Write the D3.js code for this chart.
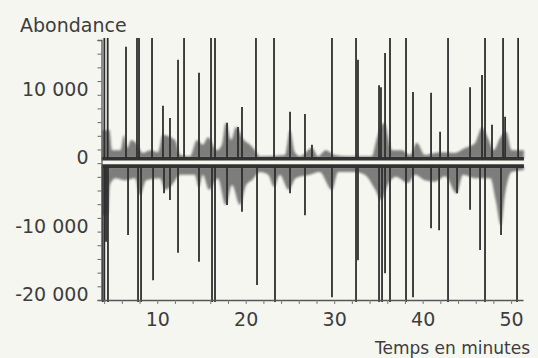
<!DOCTYPE html>
<html>
<head>
<meta charset="utf-8">
<script src="https://cdn.jsdelivr.net/npm/d3@7"></script>
<style>
  html, body { margin: 0; padding: 0; background: #f6f6f0; }
  svg { display: block; }
  text { font-family: "DejaVu Sans", sans-serif; fill: #3d3d3d; }
</style>
</head>
<body>
<div id="chart"></div>
<script>
// values (minutes, abundance)
const yTickLabels = [-20000, -10000, 0, 10000];
const xTickLabels = [10, 20, 30, 40, 50];
const CLIP_UP = 18300;     // peaks leaving the top of the frame
const CLIP_DOWN = -20300;  // peaks leaving the bottom of the frame

const posPeaks = [
  [4.02, CLIP_UP], [4.40, CLIP_UP], [6.47, 17000], [7.71, CLIP_UP], [7.94, CLIP_UP],
  [9.41, CLIP_UP], [10.65, 8400], [11.44, 6600], [12.35, 15100], [13.03, CLIP_UP],
  [14.72, 13200], [16.08, CLIP_UP], [16.53, CLIP_UP], [17.89, 5900], [19.13, 5300],
  [19.58, 8200], [21.16, CLIP_UP], [23.20, CLIP_UP], [25.01, 7500], [26.70, 7200],
  [27.49, 2700], [29.75, CLIP_UP], [32.47, CLIP_UP], [32.69, 15100], [35.07, 11400],
  [35.29, 11100], [35.75, 16100], [36.31, CLIP_UP], [38.12, CLIP_UP], [38.91, 10400],
  [40.95, 10300], [41.97, 4600], [42.87, CLIP_UP], [45.36, 11100], [46.71, 12900],
  [47.05, CLIP_UP], [47.84, 5600], [49.09, CLIP_UP], [49.32, 6800], [50.79, CLIP_UP]
];

const negPeaks = [
  [3.81, CLIP_DOWN], [4.02, CLIP_DOWN], [4.21, -11500], [4.43, CLIP_DOWN], [6.70, -10500],
  [7.83, CLIP_DOWN], [8.17, CLIP_DOWN], [9.53, -17100], [10.77, -4400], [11.44, -5400],
  [12.35, -13100], [14.72, -14400], [16.19, CLIP_DOWN], [16.53, CLIP_DOWN], [17.89, -6100],
  [19.58, -7100], [21.28, -17800], [23.31, CLIP_DOWN], [25.01, -4400], [26.70, -7600],
  [29.75, -19600], [32.47, CLIP_DOWN], [32.69, -14200], [35.07, CLIP_DOWN], [35.41, CLIP_DOWN],
  [35.75, -16100], [36.31, CLIP_DOWN], [38.12, CLIP_DOWN], [38.91, -19600], [40.95, -9500],
  [41.86, -9800], [42.87, CLIP_DOWN], [43.89, -4400], [45.36, -6800], [46.49, -12700],
  [47.05, CLIP_DOWN], [48.86, -10500], [50.67, CLIP_DOWN]
];

// upper envelope of the noisy baseline of the top trace
const posBand = [
  [3.7, 1000], [3.75, 4800], [4.6, 4800], [4.9, 1900], [5.85, 1900], [6.25, 4100], [6.6, 2200],
  [7.05, 3400], [7.5, 3100], [8.4, 1500], [9.2, 1900], [10.1, 1600], [10.6, 4100], [12.0, 3400],
  [12.6, 1200], [13.7, 1000], [14.5, 3400], [15.15, 2700], [15.75, 3800], [16.75, 1900],
  [17.3, 2700], [17.75, 5900], [18.35, 3400], [18.9, 5300], [19.8, 3400], [20.5, 2700],
  [21.05, 1900], [21.6, 1000], [24.45, 1200], [25.0, 4800], [25.55, 1600], [26.15, 1000],
  [27.5, 2200], [28.15, 1000], [29.05, 1900], [30.05, 1200], [31.75, 1000], [34.25, 1000],
  [34.85, 3800], [35.65, 5900], [36.55, 1900], [37.65, 1900], [38.55, 1200], [39.35, 3000],
  [40.25, 1200], [41.95, 1600], [43.65, 1500], [44.75, 2200], [45.95, 3000], [46.7, 5200],
  [47.35, 3800], [48.05, 1900], [48.75, 3700], [49.45, 4600], [50.05, 1900], [51.45, 1900]
];

// lower envelope of the noisy baseline of the mirrored trace
const negBand = [
  [3.7, -1000], [3.75, -7600], [4.4, -7600], [4.65, -3200], [5.25, -2200], [6.35, -2500],
  [7.5, -2200], [8.05, -4700], [8.75, -2500], [10.3, -2200], [10.9, -3900], [11.65, -3200],
  [12.6, -1700], [14.25, -1700], [14.7, -3500], [15.15, -1700], [15.85, -3900], [16.85, -2200],
  [17.75, -6100], [18.45, -3200], [19.35, -6100], [20.05, -3200], [20.7, -2500], [21.6, -1300],
  [22.55, -1700], [23.2, -3500], [23.85, -1700], [24.85, -3900], [25.65, -2200], [27.25, -1700],
  [28.35, -1300], [29.75, -3900], [30.45, -1300], [32.35, -1300], [33.45, -1700], [34.65, -3900],
  [35.3, -5400], [36.05, -3200], [36.95, -2000], [38.35, -2900], [39.15, -1700], [40.25, -2500],
  [41.35, -2700], [42.55, -1900], [43.85, -4400], [44.55, -1700], [45.95, -2200], [47.65, -2200],
  [48.25, -5400], [48.85, -9100], [49.3, -4700], [50.05, -1300], [51.45, -1000]
];

const POS_BASE = 700;
const NEG_BASE = -500;

const width = 538, height = 358;
const mLeft = 101.5, mRight = 523.5, mTop = 40, mBottom = 300;

const svg = d3.select('#chart').append('svg')
  .attr('width', width)
  .attr('height', height);

const defs = svg.append('defs');
defs.append('filter').attr('id', 'soft')
  .append('feGaussianBlur').attr('stdDeviation', 0.45);
defs.append('filter').attr('id', 'fuzz')
  .attr('x', '-5%').attr('y', '-50%').attr('width', '110%').attr('height', '200%')
  .append('feGaussianBlur').attr('stdDeviation', 1.3);
defs.append('clipPath').attr('id', 'frame')
  .append('rect').attr('x', mLeft).attr('y', mTop - 3)
  .attr('width', mRight - mLeft + 3).attr('height', mBottom - mTop + 6);

const x = d3.scaleLinear().domain([3.7, 51.4]).range([mLeft, mRight]);
const y = d3.scaleLinear().domain([-20000, 18000]).range([mBottom, mTop]);

const fmt = d3.formatLocale({ decimal: ',', thousands: ' ', grouping: [3], currency: ['', ''], minus: '-' }).format(',d');

const plot = svg.append('g').attr('clip-path', 'url(#frame)');

// noisy baseline humps
const bandG = plot.append('g').attr('filter', 'url(#fuzz)').attr('opacity', 0.8);
bandG.append('path')
  .datum(posBand)
  .attr('fill', '#5e5e5e')
  .attr('d', d3.area().curve(d3.curveMonotoneX)
    .x(d => x(d[0])).y0(y(POS_BASE)).y1(d => y(d[1])));
bandG.append('path')
  .datum(negBand)
  .attr('fill', '#5e5e5e')
  .attr('d', d3.area().curve(d3.curveMonotoneX)
    .x(d => x(d[0])).y0(y(NEG_BASE)).y1(d => y(d[1])));

// baseline cores
const coreG = plot.append('g').attr('filter', 'url(#soft)');
[POS_BASE, NEG_BASE].forEach(v => {
  coreG.append('line')
    .attr('x1', x(3.7)).attr('x2', x(51.45))
    .attr('y1', y(v)).attr('y2', y(v))
    .attr('stroke', '#333').attr('stroke-width', 4.5);
});

// peaks
const peakG = plot.append('g').attr('filter', 'url(#soft)')
  .attr('stroke', '#2f2f2f').attr('stroke-width', 1.8);
peakG.selectAll('line.pos')
  .data(posPeaks)
  .join('line')
  .attr('class', 'pos')
  .attr('x1', d => x(d[0])).attr('x2', d => x(d[0]))
  .attr('y1', y(POS_BASE)).attr('y2', d => y(d[1]));
peakG.selectAll('line.neg')
  .data(negPeaks)
  .join('line')
  .attr('class', 'neg')
  .attr('x1', d => x(d[0])).attr('x2', d => x(d[0]))
  .attr('y1', y(NEG_BASE)).attr('y2', d => y(d[1]));

// bright gap between the two mirrored traces
plot.append('line')
  .attr('filter', 'url(#soft)')
  .attr('x1', x(3.8)).attr('x2', x(51.45))
  .attr('y1', y(100)).attr('y2', y(100))
  .attr('stroke', '#ffffff').attr('stroke-width', 2.2);

// axes
const yMinor = svg.append('g')
  .attr('transform', `translate(${mLeft},0)`)
  .call(d3.axisLeft(y).tickValues(d3.range(-20000, 18001, 2000)).tickSize(4).tickFormat(''));
yMinor.select('.domain').attr('stroke', '#555').attr('stroke-width', 1.3);
yMinor.selectAll('.tick line').attr('stroke', '#666');

const yLab = svg.append('g')
  .attr('transform', `translate(${mLeft},0)`)
  .call(d3.axisLeft(y).tickValues(yTickLabels).tickSize(0).tickPadding(13).tickFormat(fmt));
yLab.select('.domain').remove();
yLab.selectAll('text')
  .attr('font-size', 19)
  .attr('font-family', '"DejaVu Sans", sans-serif')
  .attr('fill', '#3d3d3d');
yLab.selectAll('.tick').attr('transform', d => `translate(0,${y(d) - 5})`);

const xMinor = svg.append('g')
  .attr('transform', `translate(0,${mBottom})`)
  .call(d3.axisBottom(x).tickValues(d3.range(4, 52, 2)).tickSize(4).tickFormat(''));
xMinor.select('.domain').attr('stroke', '#555').attr('stroke-width', 1.3).attr('d', `M${mLeft},0.5H${mRight}`);
xMinor.selectAll('.tick line').attr('stroke', '#777');

const xLab = svg.append('g')
  .attr('transform', `translate(0,${mBottom})`)
  .call(d3.axisBottom(x).tickValues(xTickLabels).tickSize(0).tickPadding(13));
xLab.select('.domain').remove();
xLab.selectAll('text')
  .attr('font-size', 19)
  .attr('font-family', '"DejaVu Sans", sans-serif')
  .attr('fill', '#3d3d3d');

// titles
svg.append('text')
  .attr('x', 20).attr('y', 32)
  .attr('font-size', 19)
  .text('Abondance');

svg.append('text')
  .attr('x', 530).attr('y', 354)
  .attr('text-anchor', 'end')
  .attr('font-size', 17)
  .text('Temps en minutes');
</script>
</body>
</html>
